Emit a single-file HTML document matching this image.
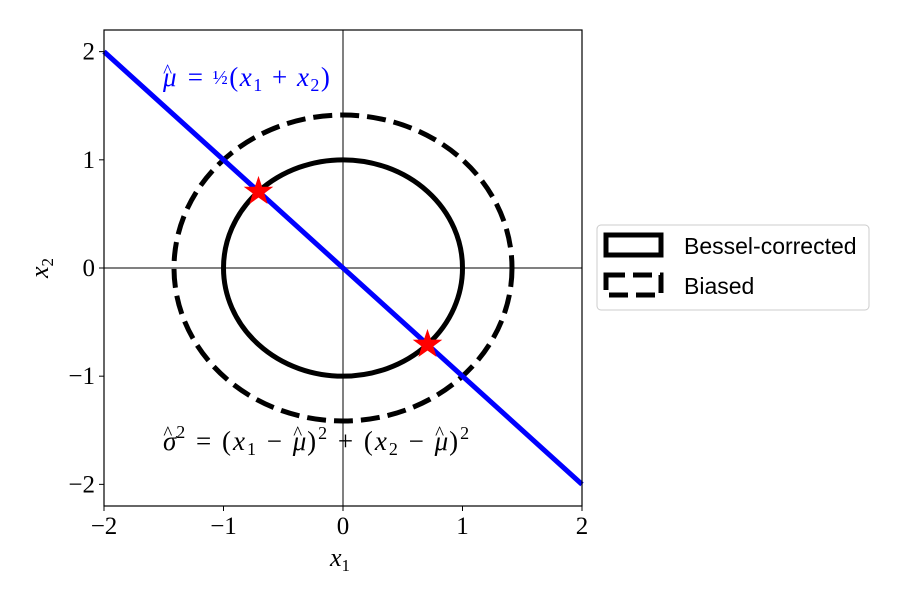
<!DOCTYPE html>
<html><head><meta charset="utf-8"><style>
body{margin:0;background:#fff}
</style></head><body>
<svg id="chart" width="900" height="600" xmlns="http://www.w3.org/2000/svg" font-family="Liberation Serif,serif">
<g id="plot"></g>
</svg>
<script>
const xTicks=[-2,-1,0,1,2];
const yTicks=[-2,-1,0,1,2];
const tickLabels=["\u22122","\u22121","0","1","2"];
const circleRadii=[1,Math.SQRT2];
const circleNames=["Bessel-corrected","Biased"];
const lineX=[-2,2];
const lineY=[2,-2];
const starX=[-0.7071,0.7071];
const starY=[0.7071,-0.7071];

const L=104,R=582,T=30,B=506;
const xs=v=>L+(v+2)/4*(R-L);
const ys=v=>T+(2.2-v)/4.4*(B-T);
const svg=document.getElementById('plot');
const NS="http://www.w3.org/2000/svg";
function mk(tag,attrs,parent){const e=document.createElementNS(NS,tag);for(const k in attrs)e.setAttribute(k,attrs[k]);(parent||svg).appendChild(e);return e;}

let e;
e=mk('line',{x1:xs(0),x2:xs(0),y1:T,y2:B,stroke:'#808080','stroke-width':2});


e=mk('line',{x1:L,x2:R,y1:ys(0),y2:ys(0),stroke:'#808080','stroke-width':2});



circleRadii.forEach((r,i)=>{
  const c=mk('ellipse',{cx:xs(0),cy:ys(0),rx:xs(r)-xs(0),ry:ys(0)-ys(r),fill:'none',stroke:'#000','stroke-width':5,'stroke-dasharray':i?'19 8':'none'});
  
  
});

e=mk('line',{x1:xs(lineX[0]),y1:ys(lineY[0]),x2:xs(lineX[1]),y2:ys(lineY[1]),stroke:'#0000ff','stroke-width':5});



starX.forEach((sx,i)=>{
  const cx=xs(sx),cy=ys(starY[i]);let pts=[];
  for(let k=0;k<10;k++){const a=-Math.PI/2+k*Math.PI/5;const rr=k%2?5.5:14;pts.push((cx+rr*Math.cos(a)).toFixed(1)+','+(cy+rr*Math.sin(a)).toFixed(1));}
  const s=mk('polygon',{points:pts.join(' '),fill:'#ff0000',stroke:'#ff0000','stroke-width':1});
  
  
});

e=mk('rect',{x:L,y:T,width:R-L,height:B-T,fill:'none',stroke:'#000','stroke-width':1.2});



xTicks.forEach((v,i)=>{
  const t=mk('line',{x1:xs(v),x2:xs(v),y1:B,y2:B+5,stroke:'#000'});
  
  
  const tx=mk('text',{x:xs(v),y:B+28,'text-anchor':'middle','font-size':25});
  tx.textContent=tickLabels[i];
  
  
});
yTicks.forEach((v,i)=>{
  const t=mk('line',{x1:L-5,x2:L,y1:ys(v),y2:ys(v),stroke:'#000'});
  
  
  const tx=mk('text',{x:L-9,y:ys(v)+8,'text-anchor':'end','font-size':25});
  tx.textContent=tickLabels[i];
  
  
});
</script>
<svg style="position:absolute;left:0;top:0" width="900" height="600" xmlns="http://www.w3.org/2000/svg" font-family="Liberation Serif,serif">
<text x="340" y="566" text-anchor="middle" font-size="26" font-style="italic">x<tspan font-size="17" dy="5" font-style="normal">1</tspan></text>
<text transform="translate(48,268) rotate(-90)" text-anchor="middle" font-size="26" font-style="italic">x<tspan font-size="17" dy="5" font-style="normal">2</tspan></text>
<text x="163" y="86" fill="#0000ff" font-size="27" letter-spacing="1.5"><tspan font-style="italic">μ</tspan><tspan dx="-15" dy="-9" font-size="19">^</tspan><tspan dx="6" dy="9"> = </tspan><tspan font-size="20" dy="-2">½</tspan><tspan dy="2">(</tspan><tspan font-style="italic">x</tspan><tspan font-size="18" dy="5">1</tspan><tspan dy="-5"> + </tspan><tspan font-style="italic">x</tspan><tspan font-size="18" dy="5">2</tspan><tspan dy="-5">)</tspan></text>
<text x="163" y="450" font-size="27" letter-spacing="2"><tspan font-style="italic">σ</tspan><tspan dx="-15" dy="-11" font-size="19">^</tspan><tspan font-size="18" dx="2" dy="-1">2</tspan><tspan dy="12"> = (</tspan><tspan font-style="italic">x</tspan><tspan font-size="18" dy="5">1</tspan><tspan dy="-5"> − </tspan><tspan font-style="italic">μ</tspan><tspan dx="-15" dy="-11" font-size="19">^</tspan><tspan dx="3" dy="11">)</tspan><tspan font-size="18" dy="-11">2</tspan><tspan dy="11"> + (</tspan><tspan font-style="italic">x</tspan><tspan font-size="18" dy="5">2</tspan><tspan dy="-5"> − </tspan><tspan font-style="italic">μ</tspan><tspan dx="-15" dy="-11" font-size="19">^</tspan><tspan dx="3" dy="11">)</tspan><tspan font-size="18" dy="-11">2</tspan></text>
<g>
<rect x="597" y="225" width="272" height="85" rx="4" fill="#fff" stroke="#ccc" stroke-width="1"/>
<rect x="606" y="235" width="55" height="20" fill="none" stroke="#000" stroke-width="5"/>
<rect x="606" y="275" width="55" height="20" fill="none" stroke="#000" stroke-width="5" stroke-dasharray="19 8"/>
<text x="684" y="254" font-size="23" font-family="Liberation Sans,sans-serif">Bessel-corrected</text>
<text x="684" y="294" font-size="23" font-family="Liberation Sans,sans-serif">Biased</text>
</g>
</svg>
</body></html>
